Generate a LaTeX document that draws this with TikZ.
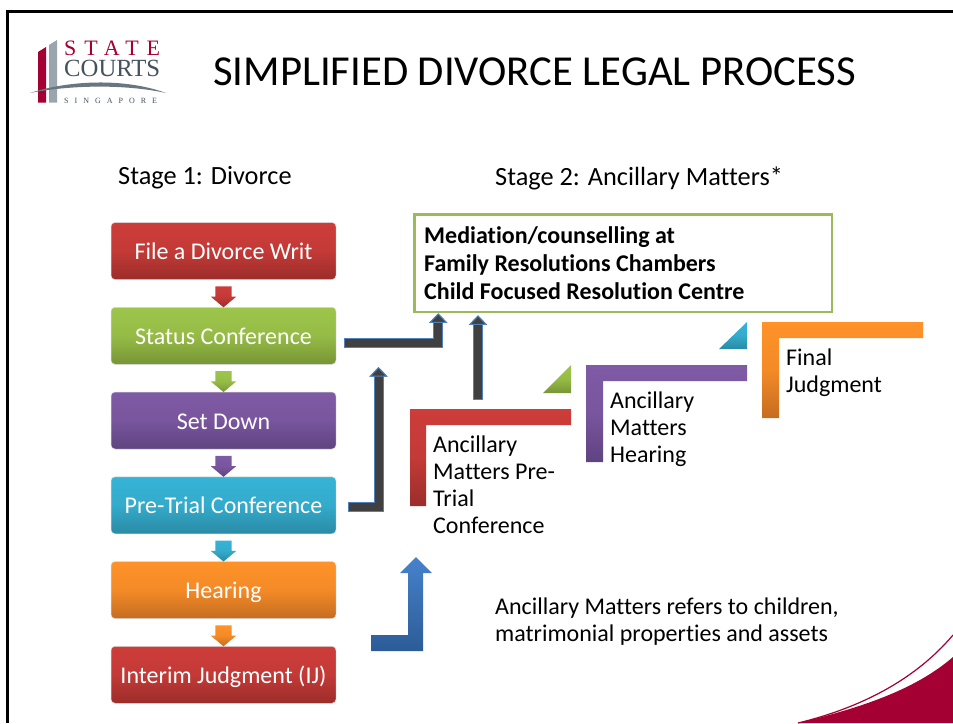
\documentclass[tikz,border=0pt]{standalone}
\usepackage{fontspec}
\setmainfont[Ligatures=NoCommon]{Carlito}
\newfontfamily\logofont{Liberation Serif}
\newfontfamily\statefont[LetterSpace=36]{Liberation Serif}
\newfontfamily\singaporefont[LetterSpace=75]{Liberation Serif}
\usetikzlibrary{positioning, calc, arrows.meta, shapes.arrows}
\definecolor{courtred}{HTML}{A50034}
\definecolor{logogrey}{HTML}{9AA5AE}
\definecolor{logoslate}{HTML}{44525F}
\definecolor{shaftgrey}{HTML}{404040}
\definecolor{shaftblue}{HTML}{4F81BD}
\definecolor{boxline}{HTML}{9BBB59}
\definecolor{stepred}{HTML}{CD3D3A}
\definecolor{stepreddark}{HTML}{9B2D2A}
\definecolor{stepgreen}{HTML}{9DC54A}
\definecolor{stepgreendark}{HTML}{779536}
\definecolor{steppurple}{HTML}{7F5AA5}
\definecolor{steppurpledark}{HTML}{5F4380}
\definecolor{stepteal}{HTML}{36B3D5}
\definecolor{steptealdark}{HTML}{2A8AA5}
\definecolor{steporange}{HTML}{FF9229}
\definecolor{steporangedark}{HTML}{C56C20}
\definecolor{arrowblue}{HTML}{4682CC}
\definecolor{arrowbluedark}{HTML}{2C5C96}

\begin{document}
\begin{tikzpicture}[x=1pt, y=-1pt, node distance=27.25pt]
	% shades
	\tikzstyle{redshade} = [top color=stepred, bottom color=stepreddark, middle color=stepred!80!stepreddark]
	\tikzstyle{greenshade} = [top color=stepgreen, bottom color=stepgreendark, middle color=stepgreen!80!stepgreendark]
	\tikzstyle{purpleshade} = [top color=steppurple, bottom color=steppurpledark, middle color=steppurple!80!steppurpledark]
	\tikzstyle{tealshade} = [top color=stepteal, bottom color=steptealdark, middle color=stepteal!80!steptealdark]
	\tikzstyle{orangeshade} = [top color=steporange, bottom color=steporangedark, middle color=steporange!80!steporangedark]
	% node styles
	\tikzstyle{stepbox} = [rounded corners=4pt, draw=white!70!gray, line width=0.5pt, minimum width=225pt, minimum height=57pt, inner sep=0pt, text height=21.5pt, text depth=4.5pt, text=white, font=\fontsize{24}{27}\selectfont]
	\tikzstyle{downarrow} = [single arrow, shape border rotate=270, text width=16pt, text height=5pt, text depth=5pt, minimum height=21pt, single arrow head extend=4.5pt, single arrow tip angle=100, inner sep=0pt]
	\tikzstyle{label} = [anchor=north west, align=left, inner sep=0pt, font=\fontsize{24}{27}\selectfont]
	\tikzstyle{elbow} = [draw=shaftgrey, line width=8pt, shorten <=0.8pt, preaction={draw=shaftblue, line width=10pt, shorten <=0pt}, -{Triangle[length=9.5pt, width=18pt, fill=shaftgrey, color=shaftblue, line width=1pt, sep=0pt]}]

	\useasboundingbox (0,0) rectangle (953,723);
	\fill[white] (0,0) rectangle (953,723);

	% frame and corner
	\draw[line width=3pt] (953,11.5) -- (7.5,11.5) -- (7.5,723);
	\fill[courtred] (798,723) .. controls (860,708) and (915,690) .. (953,657) -- (953,723) -- cycle;
	\draw[courtred, line width=1.2pt] (798,723) .. controls (860,708) and (915,680) .. (953,635);

	% logo
	\fill[courtred] (38,52) -- (46,47) -- (46,102.5) -- (38,102.5) -- cycle;
	\fill[logogrey] (49,45) -- (57,40) -- (57,102.5) -- (49,102.5) -- cycle;
	\fill[logoslate!80!white] (30,93) .. controls (70,80) and (125,78) .. (166,93) .. controls (125,84) and (70,85) .. (30,93) -- cycle;
	\node[anchor=base west, inner sep=0pt, text=courtred, font=\statefont\fontsize{22}{22}\selectfont] (logostate) at (64,55.5) {STATE};
	\node[anchor=base west, inner sep=0pt, text=logoslate, font=\logofont\fontsize{24.7}{24}\selectfont] (logocourts) at (64,76.5) {COURTS};
	\node[anchor=base west, inner sep=0pt, text=logoslate, font=\singaporefont\fontsize{8}{8}\selectfont] (logosingapore) at (64,103) {SINGAPORE};

	% headings
	\node[anchor=base west, inner sep=0pt, font=\fontsize{42.7}{44}\selectfont] (title) at (213,85) {SIMPLIFIED DIVORCE LEGAL PROCESS};
	\node[anchor=base west, inner sep=0pt, font=\fontsize{26.3}{28}\selectfont] (stageone) at (118,184) {Stage 1: Divorce};
	\node[anchor=base west, inner sep=0pt, font=\fontsize{26.3}{28}\selectfont] (stagetwo) at (495,185) {Stage 2: Ancillary Matters*};

	% stage 1
	\node[stepbox, redshade] (file) at (223.5,251) {File a Divorce Writ};
	\node[stepbox, greenshade, below=of file] (status) {Status Conference};
	\node[stepbox, purpleshade, below=of status] (setdown) {Set Down};
	\node[stepbox, tealshade, below=of setdown] (pretrial) {Pre-Trial Conference};
	\node[stepbox, orangeshade, below=of pretrial] (hearing) {Hearing};
	\node[stepbox, redshade, below=of hearing] (interim) {Interim Judgment (IJ)};

	\node[downarrow, redshade] (filearrow) at ($(file.south)!0.5!(status.north)$) {};
	\node[downarrow, greenshade] (statusarrow) at ($(status.south)!0.5!(setdown.north)$) {};
	\node[downarrow, purpleshade] (setdownarrow) at ($(setdown.south)!0.5!(pretrial.north)$) {};
	\node[downarrow, tealshade] (pretrialarrow) at ($(pretrial.south)!0.5!(hearing.north)$) {};
	\node[downarrow, orangeshade] (hearingarrow) at ($(hearing.south)!0.5!(interim.north)$) {};

	% stage 2
	\node[draw=boxline, line width=2.5pt, minimum width=417.5pt, minimum height=97.5pt] (mediation) at (623.25,263.25) {};
	\node[anchor=north west, align=left, inner sep=0pt, font=\fontsize{24}{28}\selectfont\bfseries] (mediationtext) at (424,226.5) {Mediation/counselling at\\Family Resolutions Chambers\\Child Focused Resolution Centre};

	\coordinate (redcorner) at (410,409);
	\coordinate (purplecorner) at (586,365);
	\coordinate (orangecorner) at (762,322);
	\shade[redshade] (redcorner) -- ++(161,0) -- ++(0,16) -- ++(-145,0) -- ++(0,81) -- ++(-16,0) -- cycle;
	\shade[purpleshade] (purplecorner) -- ++(161,0) -- ++(0,16) -- ++(-144,0) -- ++(0,81) -- ++(-17,0) -- cycle;
	\shade[orangeshade] (orangecorner) -- ++(161,0) -- ++(0,16) -- ++(-144,0) -- ++(0,80) -- ++(-17,0) -- cycle;
	\shade[greenshade] (543,393) -- (571,365) -- (571,393) -- cycle;
	\shade[tealshade] (719,349) -- (747,322) -- (747,349) -- cycle;

	\node[label, below right=27pt and 23pt of redcorner] (redlabel) {Ancillary\\Matters Pre-\\Trial\\Conference};
	\node[label, below right=27pt and 24pt of purplecorner] (purplelabel) {Ancillary\\Matters\\Hearing};
	\node[label, below right=27pt and 24pt of orangecorner] (orangelabel) {Final\\Judgment};
	\node[label] (note) at (495,598) {Ancillary Matters refers to children,\\matrimonial properties and assets};

	% elbows
	\coordinate (statusend) at ($(status.east)+(8pt,-7pt)$);
	\coordinate (pretrialend) at ($(pretrial.east)+(12pt,-2pt)$);
	\coordinate (redtop) at ($(redcorner)+(68pt,9pt)$);
	\coordinate (mediationin) at ($(mediation.south west)+(25pt,0pt)$);
	\coordinate (mediationmid) at (redtop|-mediation.south);
	\draw[elbow] (statusend) -| (mediationin);
	\draw[elbow] (redtop) -- ([yshift=-2pt]mediationmid);
	\draw[elbow] (pretrialend) -| (378.5,367);

	\coordinate (bluestart) at (371,635);
	\shade[top color=arrowblue, bottom color=arrowbluedark] (bluestart) -- ++(37,0) -- ++(0,-62) -- ++(-8,0) -- ++(16,-16) -- ++(16,16) -- ++(-9,0) -- ++(0,78) -- ++(-52,0) -- cycle;
\end{tikzpicture}
\end{document}
